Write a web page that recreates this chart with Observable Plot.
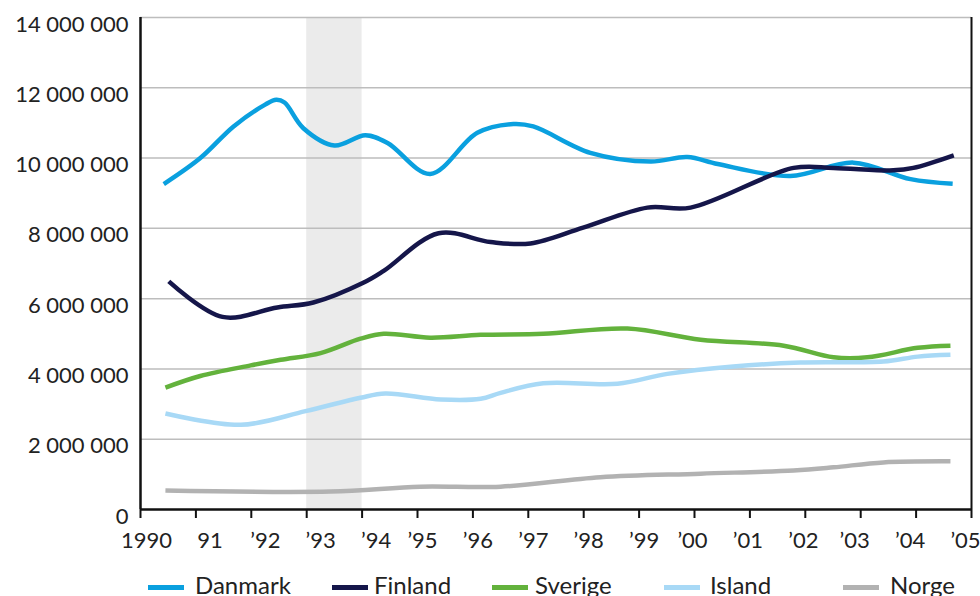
<!DOCTYPE html>
<html>
<head>
<meta charset="utf-8">
<script src="https://cdn.jsdelivr.net/npm/d3@7"></script>
<script src="https://cdn.jsdelivr.net/npm/@observablehq/plot@0.6"></script>
<style>
  html, body { margin: 0; padding: 0; background: #fff; overflow: hidden; }
  #wrap { position: relative; width: 980px; height: 596px; font-family: Lato, "Noto Sans", sans-serif; color: #222; }
  .leg { position: absolute; top: 570px; height: 30px; font-size: 24px; line-height: 30px; white-space: nowrap; }
  .sw { position: absolute; top: 15px; height: 5px; width: 36px; }
  .lt { position: absolute; top: 0; }
</style>
</head>
<body>
<div id="wrap"><div id="chart"></div><div id="legend"></div></div>
<script>
// ---- data (values in millions) ----
const seriesNames = ["Danmark", "Finland", "Sverige", "Island", "Norge"];
const seriesColors = ["#0aa0df", "#15164a", "#63b23c", "#a8d9f6", "#b2b2b2"];

const danmarkYear  = [1990.42, 1991.08, 1991.68, 1992.25, 1992.45, 1992.6, 1992.94, 1993.5, 1994.06, 1994.46, 1995.23, 1996.08, 1996.73, 1997.09, 1998.12, 1999.21, 1999.87, 2000.42, 2001.73, 2002.87, 2003.9, 2004.66];
const danmarkValue = [9.26, 10.0, 10.9, 11.52, 11.66, 11.58, 10.85, 10.36, 10.65, 10.43, 9.55, 10.72, 10.97, 10.9, 10.15, 9.9, 10.03, 9.83, 9.49, 9.87, 9.4, 9.27];

const finlandYear  = [1990.51, 1991.48, 1992.47, 1993.12, 1994.03, 1994.39, 1995.38, 1996.32, 1997.04, 1997.99, 1999.15, 1999.93, 2001.79, 2002.51, 2003.59, 2003.95, 2004.68];
const finlandValue = [6.49, 5.48, 5.75, 5.89, 6.46, 6.79, 7.86, 7.61, 7.57, 8.02, 8.59, 8.59, 9.72, 9.72, 9.65, 9.72, 10.08];

const sverigeYear  = [1990.45, 1991.08, 1991.99, 1992.53, 1993.25, 1993.97, 1994.39, 1995.23, 1996.14, 1997.27, 1998.79, 2000.11, 2001.61, 2002.51, 2003.12, 2004.03, 2004.62];
const sverigeValue = [3.47, 3.8, 4.1, 4.26, 4.45, 4.86, 5.0, 4.89, 4.97, 5.0, 5.15, 4.83, 4.66, 4.33, 4.33, 4.6, 4.66];

const islandYear   = [1990.45, 1991.81, 1992.98, 1993.97, 1994.42, 1995.42, 1996.14, 1996.5, 1997.27, 1998.61, 1999.51, 2000.7, 2001.91, 2003.41, 2004.03, 2004.62];
const islandValue  = [2.73, 2.41, 2.8, 3.18, 3.3, 3.13, 3.15, 3.32, 3.59, 3.58, 3.86, 4.07, 4.18, 4.21, 4.35, 4.40];

const norgeYear    = [1990.45, 1993.43, 1995.05, 1996.5, 1998.3, 2000.11, 2001.79, 2002.51, 2003.41, 2004.62];
const norgeValue   = [0.54, 0.51, 0.65, 0.65, 0.92, 1.02, 1.11, 1.2, 1.34, 1.37];

const yTicks = [0, 2e6, 4e6, 6e6, 8e6, 10e6, 12e6, 14e6];
const xTicks = d3.range(1990, 2006);
const bandYears = [1993, 1994];

// ---- build table ----
const seriesYears = [danmarkYear, finlandYear, sverigeYear, islandYear, norgeYear];
const seriesValues = [danmarkValue, finlandValue, sverigeValue, islandValue, norgeValue];
const rows = [];
seriesNames.forEach((name, i) => {
  seriesYears[i].forEach((yr, j) => rows.push({ name, year: yr, value: seriesValues[i][j] * 1e6 }));
});

const fmtY = v => d3.format(",")(v).replace(/,/g, " ");
const fmtX = y => y === 1990 ? "1990" : y === 1991 ? "91" : "\u2019" + String(y).slice(2);

const labelGroups = [
  { ticks: [1990], dx: 6 },
  { ticks: [1991, 1992, 1993, 1994], dx: 14 },
  { ticks: [1995, 1996, 1997, 1998, 1999], dx: 5 },
  { ticks: [2000, 2001, 2002], dx: -2 },
  { ticks: [2003, 2004, 2005], dx: -6 }
];

const chart = Plot.plot({
  width: 980,
  height: 562,
  marginLeft: 140,
  marginRight: 9,
  marginTop: 17,
  marginBottom: 53,
  style: { fontFamily: "Lato, 'Noto Sans', sans-serif", fontSize: "22px", color: "#222", background: "#fff", overflow: "visible" },
  x: { domain: [1990, 2005], axis: null, label: null },
  y: { domain: [0, 14e6], axis: null, label: null },
  color: { domain: seriesNames, range: seriesColors },
  marks: [
    Plot.rect([{ x1: bandYears[0], x2: bandYears[1] }], { x1: "x1", x2: "x2", y1: 0, y2: 14e6, fill: "#ebebeb" }),
    Plot.gridY(yTicks.filter(d => d > 0), { stroke: "#bdbdbd", strokeOpacity: 1, strokeWidth: 1.5 }),
    Plot.axisY(yTicks, { label: null, tickSize: 0, tickPadding: 12, tickFormat: fmtY, dy: 7, fill: "#222", fontSize: 22 }),
    Plot.line(rows, { x: "year", y: "value", z: "name", stroke: "name", strokeWidth: 4.5, curve: "catmull-rom", strokeLinecap: "butt" }),
    Plot.ruleX([1990], { stroke: "#111", strokeWidth: 2.5 }),
    Plot.ruleX([2005], { stroke: "#111", strokeWidth: 2 }),
    Plot.ruleY([0], { stroke: "#111", strokeWidth: 2.5 }),
    Plot.axisX(xTicks, { label: null, tickSize: 9, tickFormat: () => "", stroke: "#111", strokeWidth: 2 }),
    ...labelGroups.map(g => Plot.axisX(g.ticks, { label: null, tickSize: 0, tickPadding: 23, tickFormat: fmtX, dx: g.dx, fill: "#222", fontSize: 22 }))
  ]
});
document.getElementById("chart").appendChild(chart);

// ---- legend ----
const legendPos = [
  { sw: 148, tx: 195 },
  { sw: 332, tx: 374 },
  { sw: 492, tx: 535 },
  { sw: 664, tx: 710 },
  { sw: 843, tx: 890 }
];
const legend = document.getElementById("legend");
seriesNames.forEach((name, i) => {
  const item = document.createElement("div");
  item.className = "leg";
  item.style.left = "0px";
  item.innerHTML = `<div class="sw" style="left:${legendPos[i].sw}px;background:${seriesColors[i]}"></div><div class="lt" style="left:${legendPos[i].tx}px">${name}</div>`;
  legend.appendChild(item);
});
</script>
</body>
</html>
